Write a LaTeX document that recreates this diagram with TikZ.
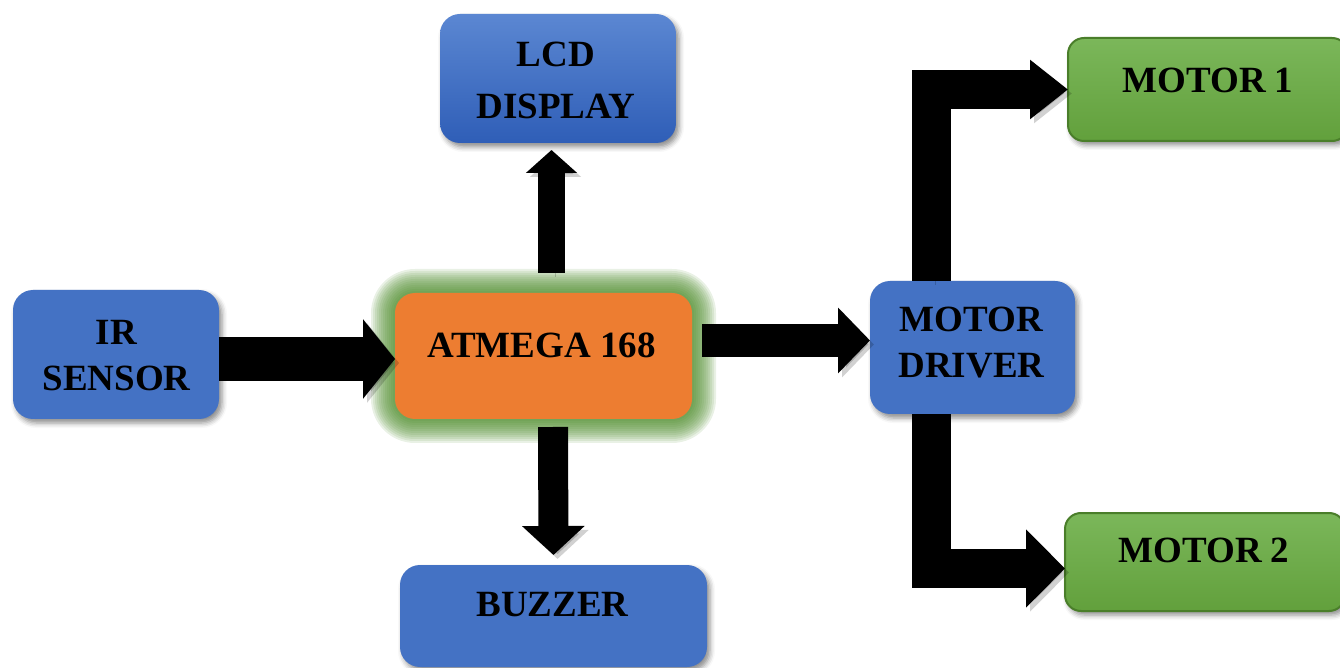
\documentclass[tikz,border=0pt]{standalone}
\usepackage{fontspec}
\setmainfont{Liberation Serif}
\usetikzlibrary{arrows.meta,calc,shadows.blur}
\definecolor{boxblue}{HTML}{4472C4}
\definecolor{lcdtop}{HTML}{5B87D2}
\definecolor{lcdbot}{HTML}{2F5EB7}
\definecolor{atmorange}{HTML}{ED7D31}
\definecolor{glowgreen}{HTML}{4E8C2C}
\definecolor{mtop}{HTML}{7BB75A}
\definecolor{mbot}{HTML}{62A03C}
\definecolor{medge}{HTML}{4A7E2A}
\pgfdeclarelayer{bg}
\pgfsetlayers{bg,main}
\begin{document}
\begin{tikzpicture}[x=0.5pt,y=-0.5pt,
  box/.style={rounded corners=10pt, inner sep=0pt, outer sep=0pt,
    blur shadow={shadow xshift=1.5pt,shadow yshift=-2pt,shadow blur radius=2.5pt,shadow opacity=45}},
  bluebox/.style={box, fill=boxblue},
  greenbox/.style={box, rounded corners=8pt, top color=mtop, bottom color=mbot, draw=medge, line width=1pt},
  txt/.style={font=\fontsize{18.5}{23}\selectfont\bfseries, align=center, inner sep=0pt},
  conn/.style={draw=black, line join=miter,
    preaction={draw=black, opacity=0.18, transform canvas={shift={(2pt,-2pt)}}}},
  glow/.style={fill=glowgreen, opacity=0.12},
]
\useasboundingbox (0,0) rectangle (1340,668);

% boxes
\node[box, top color=lcdtop, bottom color=lcdbot, minimum width=118pt, minimum height=64.5pt] (lcd) at (558,78.5) {};
\node[bluebox, minimum width=103pt, minimum height=64.5pt] (ir) at (116,354.5) {};
\node[rounded corners=10pt, inner sep=0pt, outer sep=0pt, fill=atmorange, minimum width=148.5pt, minimum height=63pt] (atm) at (543.5,356) {};
\node[bluebox, minimum width=102.5pt, minimum height=66.5pt] (drv) at (972.5,347.5) {};
\node[bluebox, minimum width=153.5pt, minimum height=51pt] (buz) at (553.5,616) {};
\node[greenbox, minimum width=140pt, minimum height=51.5pt] (m1) at (1208,89.5) {};
\node[greenbox, minimum width=140pt, minimum height=49pt] (m2) at (1205,562) {};

% green glow behind the microcontroller
\begin{pgfonlayer}{bg}
\foreach \i in {1,...,12}{
  \fill[glow, rounded corners={(10+\i)*1pt}]
    ($(atm.north west)+(-2*\i,-2*\i)$) rectangle ($(atm.south east)+(2*\i,2*\i)$);
}
\end{pgfonlayer}

% texts
\node[txt, font=\fontsize{18.5}{26}\selectfont\bfseries] (lcdT) at (556,80) {LCD\\DISPLAY};
\node[txt] (irT) at (116.5,356) {IR\\SENSOR};
\node[txt] (atmT) at (541.5,345) {ATMEGA 168};
\node[txt] (drvT) at (971.5,343) {MOTOR\\DRIVER};
\node[txt] (buzT) at (552.5,605) {BUZZER};
\node[txt] (m1T) at (1208,80) {MOTOR 1};
\node[txt] (m2T) at (1204,550) {MOTOR 2};

% connectors
\draw[conn, line width=22pt, -{Triangle[width=39pt,length=16pt]}]
  ($(ir.east)+(0,4.5)$) -- ($(atm.west)+(0,3)$);
\draw[conn, line width=16.5pt, -{Triangle[width=32pt,length=16pt]}]
  ($(atm.east)+(10,-15.5)$) -- ($(drv.west)+(0,-7)$);
\draw[conn, line width=13.5pt, -{Triangle[width=25pt,length=11.5pt]}]
  ($(atm.north)+(8,-20)$) -- ($(lcd.south)+(-6.5,7)$);
\draw[conn, line width=15pt, -{Triangle[width=30.5pt,length=14.5pt]}]
  ($(atm.south)+(9.5,8)$) -- ($(buz.north)+(0,-10)$);
\draw[conn, line width=19.5pt, -{Triangle[width=28.5pt,length=19pt]}]
  ($(drv.north)+(-41,0)$) |- (m1.west);
\draw[conn, line width=19.5pt, -{Triangle[width=38pt,length=19.5pt]}]
  ($(drv.south)+(-41,0)$) |- ($(m2.west)+(0,6.5)$);
\end{tikzpicture}
\end{document}
